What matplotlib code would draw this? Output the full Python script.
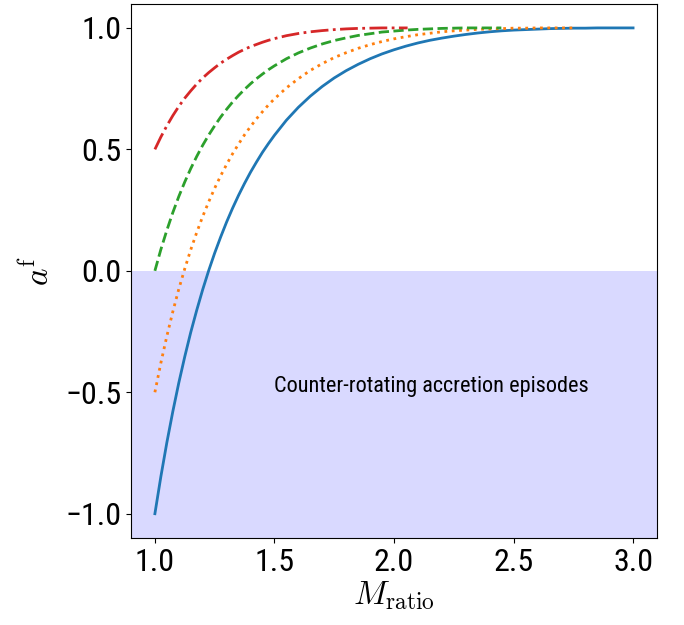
#!/usr/bin/env python3
"""Spin evolution a^f vs M_ratio for four initial spins."""

import matplotlib
matplotlib.use("Agg")
import matplotlib.pyplot as plt
from matplotlib import font_manager

# -- font: prefer a condensed sans if one is installed ------------------------
font_name = "Roboto"
for cand in ["Roboto Condensed", "Liberation Sans Narrow", "DejaVu Sans Condensed"]:
    try:
        font_manager.findfont(cand, fallback_to_default=False)
        font_name = cand
        break
    except ValueError:
        pass
plt.rcParams["font.family"] = [font_name, "DejaVu Sans"]
plt.rcParams["mathtext.fontset"] = "cm"

# -- data ---------------------------------------------------------------------
x_grid = [1.0, 1.025, 1.05, 1.075, 1.1, 1.125, 1.15, 1.175, 1.2, 1.225,
          1.25, 1.275, 1.3, 1.325, 1.35, 1.375, 1.4, 1.425, 1.45, 1.475,
          1.5, 1.55, 1.6, 1.65, 1.7, 1.75, 1.8, 1.85, 1.9, 1.95,
          2.0, 2.05, 2.1, 2.15, 2.2, 2.25, 2.3, 2.35, 2.4, 2.45,
          2.5, 2.55, 2.6, 2.65, 2.7, 2.75, 2.8, 2.85, 2.9, 2.95]

blue_x = x_grid + [3.0]
blue_y = [-1, -0.847, -0.707, -0.579, -0.461, -0.353, -0.253, -0.162, -0.077, 0.001,
          0.073, 0.139, 0.201, 0.258, 0.311, 0.36, 0.406, 0.448, 0.488, 0.524,
          0.558, 0.62, 0.673, 0.719, 0.759, 0.794, 0.824, 0.85, 0.873, 0.893,
          0.91, 0.925, 0.938, 0.949, 0.958, 0.966, 0.973, 0.979, 0.984, 0.988,
          0.991, 0.993, 0.995, 0.997, 0.998, 0.999, 0.999, 1, 1, 1, 1]

orange_x = x_grid[:45] + [2.749]
orange_y = [-0.5, -0.379, -0.269, -0.168, -0.075, 0.009, 0.087, 0.158, 0.224, 0.284,
            0.34, 0.391, 0.438, 0.482, 0.522, 0.56, 0.594, 0.626, 0.655, 0.683,
            0.708, 0.753, 0.791, 0.825, 0.853, 0.878, 0.898, 0.916, 0.931, 0.944,
            0.955, 0.964, 0.972, 0.978, 0.984, 0.988, 0.991, 0.994, 0.996, 0.997,
            0.999, 0.999, 1, 1, 1, 1]

green_x = x_grid[:39] + [2.449]
green_y = [0.0, 0.088, 0.167, 0.24, 0.306, 0.366, 0.421, 0.471, 0.517, 0.559,
           0.597, 0.633, 0.665, 0.695, 0.722, 0.747, 0.77, 0.791, 0.81, 0.828,
           0.844, 0.873, 0.897, 0.917, 0.934, 0.948, 0.959, 0.969, 0.976, 0.983,
           0.987, 0.991, 0.994, 0.996, 0.998, 0.999, 1.0, 1.0, 1.0, 1.0]

red_x = x_grid[:31] + [2.057]
red_y = [0.5, 0.551, 0.597, 0.639, 0.677, 0.711, 0.741, 0.769, 0.794, 0.816,
         0.836, 0.855, 0.871, 0.886, 0.9, 0.912, 0.923, 0.932, 0.941, 0.949,
         0.956, 0.968, 0.977, 0.984, 0.989, 0.993, 0.996, 0.998, 0.999, 1.0,
         1.0, 1.0]

# -- figure -------------------------------------------------------------------
fig = plt.figure(figsize=(6.84, 6.25), dpi=100)
ax = fig.add_axes([0.1915, 0.1392, 0.769, 0.855])

ax.axhspan(-1.1, 0.0, color="blue", alpha=0.15, lw=0)

ax.plot(blue_x, blue_y, color="C0", ls="-", lw=2)
ax.plot(orange_x, orange_y, color="C1", ls=":", lw=2)
ax.plot(green_x, green_y, color="C2", ls="--", lw=2)
ax.plot(red_x, red_y, color="C3", ls="-.", lw=2)

ax.text(1.5, -0.5, "Counter-rotating accretion episodes", fontsize=16)

ax.set_xlim(0.9, 3.1)
ax.set_ylim(-1.1, 1.1)
ax.set_xticks([1.0, 1.5, 2.0, 2.5, 3.0])
ax.set_yticks([-1.0, -0.5, 0.0, 0.5, 1.0])
ax.tick_params(labelsize=23)

ax.set_xlabel(r"$M_{\rm ratio}$", fontsize=24, labelpad=2)
ax.set_ylabel(r"$a^{\rm f}$", fontsize=24, labelpad=7)

fig.savefig("out.png", dpi=100)
